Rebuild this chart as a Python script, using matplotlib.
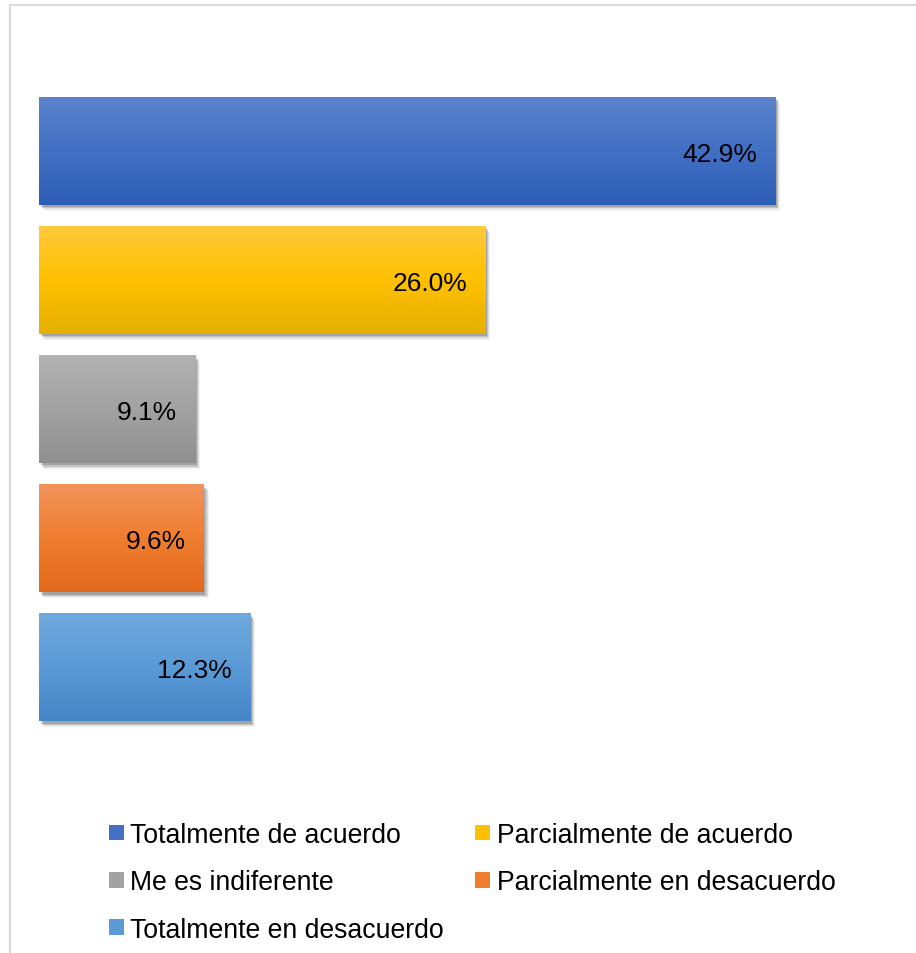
import numpy as np
import matplotlib.pyplot as plt
import matplotlib.patheffects as pe
from matplotlib.colors import LinearSegmentedColormap
from matplotlib.patches import Rectangle

plt.rcParams['font.family'] = ['Liberation Sans', 'DejaVu Sans']

# Survey answers, top to bottom
categories = ['Totalmente de acuerdo', 'Parcialmente de acuerdo', 'Me es indiferente',
              'Parcialmente en desacuerdo', 'Totalmente en desacuerdo']
values = [42.9, 26.0, 9.1, 9.6, 12.3]

# Vertical gradient stops for each bar (top, middle, bottom)
top_colors = ['#5C84CD', '#FFCA3C', '#B2B2B2', '#F2935C', '#70A9DE']
mid_colors = ['#4170C4', '#FFC000', '#A2A2A2', '#F07E30', '#5A9AD6']
bottom_colors = ['#2E5DB6', '#E5B000', '#909090', '#E2691B', '#4586C8']

fig = plt.figure(figsize=(9.16, 9.54), dpi=100)

# light chart-area frame (runs off the right and bottom edges)
frame_top = 1 - 6 / 954
fig.patches.append(Rectangle((10 / 916, -0.1), 2.0, frame_top + 0.1,
                             transform=fig.transFigure, fill=False,
                             edgecolor='#D9D9D9', linewidth=1.5))

ax = fig.add_axes([39 / 916, 1 - 733 / 954, 841 / 916, (733 - 87.45) / 954])

bar_h = 0.836
ypos = np.arange(len(values))

shadow = [
    pe.SimplePatchShadow(offset=(3.6, -4.0), shadow_rgbFace='k', alpha=0.05),
    pe.SimplePatchShadow(offset=(2.8, -3.2), shadow_rgbFace='k', alpha=0.08),
    pe.SimplePatchShadow(offset=(2.0, -2.4), shadow_rgbFace='k', alpha=0.12),
    pe.SimplePatchShadow(offset=(1.2, -1.6), shadow_rgbFace='k', alpha=0.16),
    pe.Normal(),
]

bars = ax.barh(ypos, values, height=bar_h, color=mid_colors, zorder=2)
for bar, y, v, c0, c1, c2 in zip(bars, ypos, values, top_colors, mid_colors, bottom_colors):
    bar.set_path_effects(shadow)
    cmap = LinearSegmentedColormap.from_list('grad', [c0, c1, c2])
    grad = np.linspace(0, 1, 256).reshape(-1, 1)
    im = ax.imshow(grad, cmap=cmap, aspect='auto', origin='upper',
                   extent=(0, v, y + bar_h / 2, y - bar_h / 2),
                   interpolation='bicubic', zorder=3)
    im.set_clip_path(bar)
    ax.annotate(f'{v:.1f}%', xy=(v, y), xytext=(-13, 0), textcoords='offset points',
                ha='right', va='center_baseline', fontsize=19, color='black', zorder=4)

ax.set_xlim(0, 49)
ax.set_ylim(4.5, -0.5)
ax.axis('off')

# legend filled column-wise: left column gets the "Totalmente"/indiferente items
order = [0, 2, 4, 1, 3]
handles = [Rectangle((0, 0), 1, 1, facecolor=mid_colors[i], edgecolor='none') for i in order]
labels = [categories[i] for i in order]
fig.legend(handles, labels, ncol=2, loc='upper left',
           bbox_to_anchor=(109 / 916, 1 - 823 / 954), frameon=False,
           fontsize=19.2, borderpad=0, borderaxespad=0,
           handlelength=0.57, handleheight=0.53, handletextpad=0.23,
           columnspacing=1.17, labelspacing=0.80)

fig.savefig('out.png', dpi=100)
